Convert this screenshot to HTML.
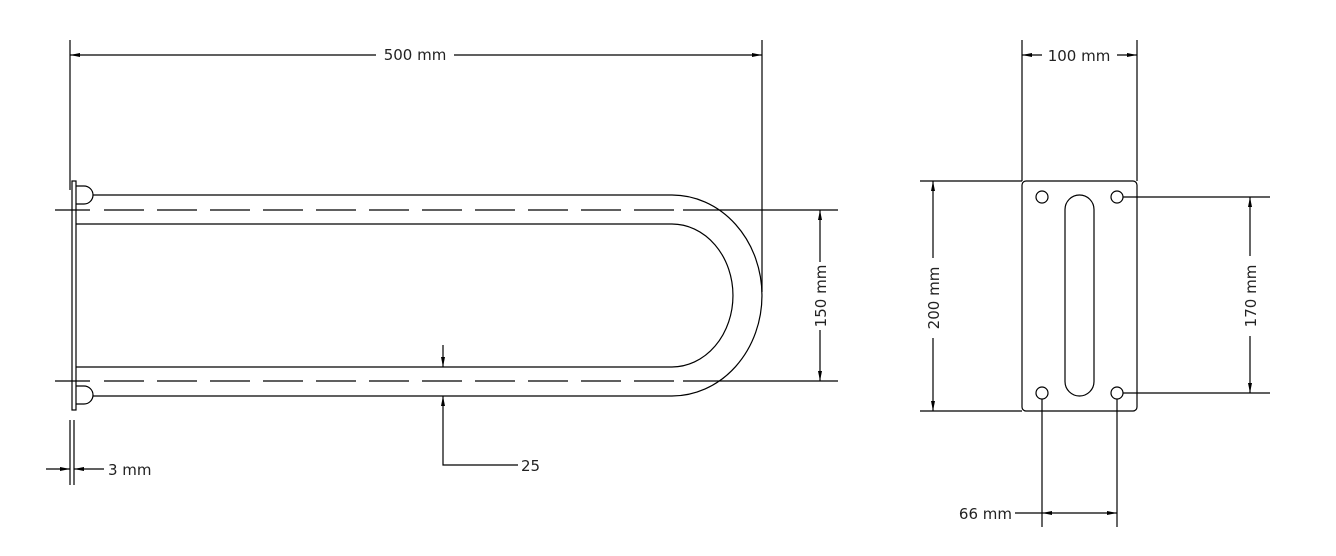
<!DOCTYPE html>
<html><head><meta charset="utf-8"><style>
html,body{margin:0;padding:0;background:#fff;}
svg{display:block;}
text{font-family:"DejaVu Sans","Liberation Sans",sans-serif;font-size:15px;fill:#222;}
</style></head><body>
<svg width="1336" height="556" viewBox="0 0 1336 556" xmlns="http://www.w3.org/2000/svg">
<defs>
<marker id="a" viewBox="0 0 10 6" refX="10" refY="3" markerWidth="10" markerHeight="6" orient="auto-start-reverse" markerUnits="userSpaceOnUse">
<path d="M0,1 L10,3 L0,5 Z" fill="#000"/>
</marker>
</defs>
<g stroke="#000" stroke-width="1.2" fill="none">
<line x1="70" y1="40" x2="70" y2="190"/>
<line x1="762" y1="40" x2="762" y2="292"/>
<line x1="70" y1="55" x2="376" y2="55" marker-start="url(#a)"/>
<line x1="454" y1="55" x2="762" y2="55" marker-end="url(#a)"/>
<rect x="72" y="181" width="4" height="229"/>
<path d="M76,186 H84 A9,9 0 0 1 84,204 H76"/>
<path d="M76,386 H84 A9,9 0 0 1 84,404 H76"/>
<path d="M93,195 H672 A90,100.5 0 0 1 672,396 H93"/>
<path d="M76,224 H672 A61,71.5 0 0 1 672,367 H76"/>
<line x1="55" y1="210" x2="90" y2="210"/>
<line x1="104" y1="210" x2="680" y2="210" stroke-dasharray="40,13"/>
<line x1="683" y1="210" x2="838" y2="210"/>
<line x1="55" y1="381" x2="90" y2="381"/>
<line x1="104" y1="381" x2="680" y2="381" stroke-dasharray="40,13"/>
<line x1="683" y1="381" x2="838" y2="381"/>
<line x1="820" y1="210" x2="820" y2="262" marker-start="url(#a)"/>
<line x1="820" y1="330" x2="820" y2="381" marker-end="url(#a)"/>
<line x1="70" y1="420" x2="70" y2="485"/>
<line x1="74" y1="420" x2="74" y2="485"/>
<line x1="46" y1="469" x2="70" y2="469" marker-end="url(#a)"/>
<line x1="104" y1="469" x2="74" y2="469" marker-end="url(#a)"/>
<line x1="443" y1="345" x2="443" y2="367" marker-end="url(#a)"/>
<path d="M518,465 H443 V396" marker-end="url(#a)"/>
<rect x="1022" y="181" width="115" height="230" rx="4"/>
<circle cx="1042" cy="197" r="6"/>
<circle cx="1117" cy="197" r="6"/>
<circle cx="1042" cy="393" r="6"/>
<circle cx="1117" cy="393" r="6"/>
<rect x="1065" y="195" width="29" height="201" rx="14.5"/>
<line x1="1022" y1="40" x2="1022" y2="181"/>
<line x1="1137" y1="40" x2="1137" y2="181"/>
<line x1="1042" y1="55" x2="1022" y2="55" marker-end="url(#a)"/>
<line x1="1117" y1="55" x2="1137" y2="55" marker-end="url(#a)"/>
<line x1="920" y1="181" x2="1022" y2="181"/>
<line x1="920" y1="411" x2="1022" y2="411"/>
<line x1="933" y1="181" x2="933" y2="258" marker-start="url(#a)"/>
<line x1="933" y1="338" x2="933" y2="411" marker-end="url(#a)"/>
<line x1="1123" y1="197" x2="1270" y2="197"/>
<line x1="1123" y1="393" x2="1270" y2="393"/>
<line x1="1250" y1="197" x2="1250" y2="256" marker-start="url(#a)"/>
<line x1="1250" y1="336" x2="1250" y2="393" marker-end="url(#a)"/>
<line x1="1042" y1="399" x2="1042" y2="527"/>
<line x1="1117" y1="399" x2="1117" y2="527"/>
<line x1="1015" y1="513" x2="1042" y2="513"/>
<line x1="1042" y1="513" x2="1117" y2="513" marker-start="url(#a)" marker-end="url(#a)"/>
</g>
<text x="415" y="60" text-anchor="middle">500 mm</text>
<text x="108" y="475">3 mm</text>
<text x="521" y="471">25</text>
<text x="1079" y="61" text-anchor="middle">100 mm</text>
<text x="1012" y="519" text-anchor="end">66 mm</text>
<text transform="translate(826,296) rotate(-90)" text-anchor="middle">150 mm</text>
<text transform="translate(939,298) rotate(-90)" text-anchor="middle">200 mm</text>
<text transform="translate(1256,296) rotate(-90)" text-anchor="middle">170 mm</text>
</svg>
</body></html>
